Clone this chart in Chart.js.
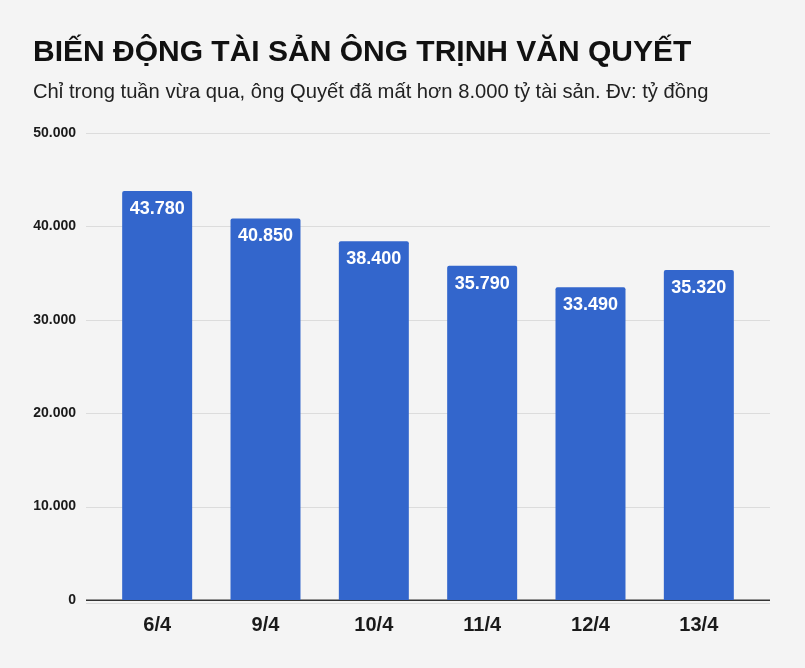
<!DOCTYPE html>
<html>
<head>
<meta charset="utf-8">
<script src="https://cdn.jsdelivr.net/npm/chart.js@4"></script>
<style>
  html, body { margin: 0; padding: 0; background: #f4f4f4; }
  #wrap { position: relative; width: 805px; height: 668px; overflow: hidden; background: #f4f4f4; }
  #title { position: absolute; left: 33px; top: 36px; font: bold 30px "Liberation Sans", Arial, sans-serif; line-height: 1; color: #111; white-space: nowrap; }
  #subtitle { position: absolute; left: 33px; top: 81px; font: 20.2px "Liberation Sans", Arial, sans-serif; line-height: 1; color: #222; white-space: nowrap; }
  canvas { position: absolute; left: 0; top: 0; }
</style>
</head>
<body>
<div id="wrap">
  <canvas id="c" width="805" height="668"></canvas>
  <div id="title">BIẾN ĐỘNG TÀI SẢN ÔNG TRỊNH VĂN QUYẾT</div>
  <div id="subtitle">Chỉ trong tuần vừa qua, ông Quyết đã mất hơn 8.000 tỷ tài sản. Đv: tỷ đồng</div>
</div>
<script>
const categories = ["6/4", "9/4", "10/4", "11/4", "12/4", "13/4"];
const assetValues = [43780, 40850, 38400, 35790, 33490, 35320];
const yTickValues = [0, 10000, 20000, 30000, 40000, 50000];

function fmt(v) {
  return String(v).replace(/\B(?=(\d{3})+(?!\d))/g, ".");
}

const gridPlugin = {
  id: "gridExt",
  beforeDatasetsDraw(chart) {
    const ctx = chart.ctx;
    const ys = chart.scales.y;
    ctx.save();
    ys.ticks.forEach(t => {
      const y = Math.round(ys.getPixelForValue(t.value));
      if (t.value === 0) {
        ctx.strokeStyle = "#dcdcdc";
        ctx.lineWidth = 1;
        ctx.beginPath(); ctx.moveTo(86, y + 3.5); ctx.lineTo(770, y + 3.5); ctx.stroke();
        ctx.strokeStyle = "#333333";
        ctx.lineWidth = 1.5;
        ctx.beginPath(); ctx.moveTo(86, y + 0.25); ctx.lineTo(770, y + 0.25); ctx.stroke();
      } else {
        ctx.strokeStyle = "#dcdcdc";
        ctx.lineWidth = 1;
        ctx.beginPath(); ctx.moveTo(86, y + 0.5); ctx.lineTo(770, y + 0.5); ctx.stroke();
      }
    });
    ctx.restore();
  }
};

const labelPlugin = {
  id: "barLabels",
  afterDatasetsDraw(chart) {
    const ctx = chart.ctx;
    const meta = chart.getDatasetMeta(0);
    ctx.save();
    ctx.font = "bold 18px 'Liberation Sans', Arial, sans-serif";
    ctx.fillStyle = "#ffffff";
    ctx.textAlign = "center";
    ctx.textBaseline = "middle";
    meta.data.forEach((bar, i) => {
      ctx.fillText(fmt(assetValues[i]), bar.x, bar.y + 18);
    });
    ctx.restore();
  }
};

new Chart(document.getElementById("c"), {
  type: "bar",
  data: {
    labels: categories,
    datasets: [{
      data: assetValues,
      backgroundColor: "#3366cc",
      borderRadius: { topLeft: 2, topRight: 2, bottomLeft: 0, bottomRight: 0 },
      borderSkipped: "start",
      barPercentage: 1,
      categoryPercentage: 0.646
    }]
  },
  options: {
    responsive: false,
    animation: false,
    devicePixelRatio: 1,
    layout: { padding: { top: 133, left: 0, right: 52, bottom: 0 } },
    plugins: { legend: { display: false }, tooltip: { enabled: false } },
    scales: {
      x: {
        grid: { display: false, drawTicks: false },
        border: { display: false },
        ticks: {
          color: "#1a1a1a",
          font: { family: "'Liberation Sans', Arial, sans-serif", size: 20, weight: "bold" },
          padding: 13
        },
        afterFit(s) { s.height = 68; }
      },
      y: {
        min: 0,
        max: 50000,
        afterBuildTicks(s) { s.ticks = yTickValues.map(v => ({ value: v })); },
        grid: { display: false, drawTicks: false },
        border: { display: false },
        ticks: {
          color: "#1a1a1a",
          font: { family: "'Liberation Sans', Arial, sans-serif", size: 14, weight: "bold" },
          padding: 27,
          callback: v => fmt(v)
        },
        afterFit(s) { s.width = 103; }
      }
    }
  },
  plugins: [gridPlugin, labelPlugin]
});
</script>
</body>
</html>
